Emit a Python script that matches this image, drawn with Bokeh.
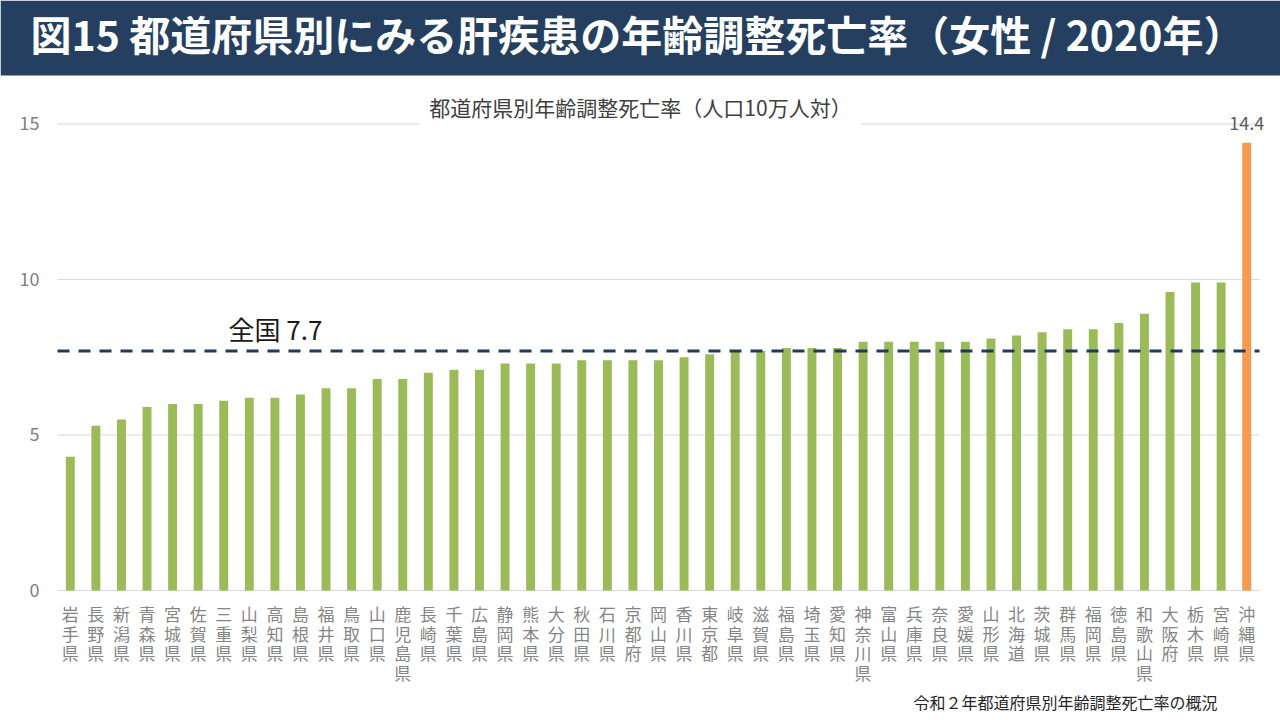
from bokeh.plotting import figure
from bokeh.models import Range1d, Label, BoxAnnotation, ColumnDataSource
from bokeh.core.properties import value
from bokeh.embed import file_html
from bokeh.resources import INLINE

# ---------------- data ----------------
prefectures = ["岩手県", "長野県", "新潟県", "青森県", "宮城県", "佐賀県", "三重県", "山梨県",
               "高知県", "島根県", "福井県", "鳥取県", "山口県", "鹿児島県", "長崎県", "千葉県",
               "広島県", "静岡県", "熊本県", "大分県", "秋田県", "石川県", "京都府", "岡山県",
               "香川県", "東京都", "岐阜県", "滋賀県", "福島県", "埼玉県", "愛知県", "神奈川県",
               "富山県", "兵庫県", "奈良県", "愛媛県", "山形県", "北海道", "茨城県", "群馬県",
               "福岡県", "徳島県", "和歌山県", "大阪府", "栃木県", "宮崎県", "沖縄県"]
rates = [4.3, 5.3, 5.5, 5.9, 6.0, 6.0, 6.1, 6.2, 6.2, 6.3, 6.5, 6.5, 6.8, 6.8, 7.0, 7.1,
         7.1, 7.3, 7.3, 7.3, 7.4, 7.4, 7.4, 7.4, 7.5, 7.6, 7.7, 7.7, 7.8, 7.8, 7.8, 8.0,
         8.0, 8.0, 8.0, 8.0, 8.1, 8.2, 8.3, 8.4, 8.4, 8.6, 8.9, 9.6, 9.9, 9.9, 14.4]
national_rate = 7.7
highlight = "沖縄県"
y_ticks = [0, 5, 10, 15]

title_text = "図15 都道府県別にみる肝疾患の年齢調整死亡率（女性 / 2020年）"
subtitle_text = "都道府県別年齢調整死亡率（人口10万人対）"
national_text = "全国 7.7"
source_text = "令和２年都道府県別年齢調整死亡率の概況"

# ---------------- layout (pixels) ----------------
W, H = 1280, 720
PLOT_L, PLOT_R = 57, 1259      # plot area left/right
Y0_PX, Y15_PX = 590, 123.5     # pixel rows of y=0 and y=15
n = len(prefectures)
cat_px = (PLOT_R - PLOT_L) / n
px_per_unit = (Y0_PX - Y15_PX) / 15.0

x_start = -0.5 - PLOT_L / cat_px
x_end = (n - 0.5) + (W - PLOT_R) / cat_px
y_start = -(H - Y0_PX) / px_per_unit
y_end = Y0_PX / px_per_unit

JP = "Noto Sans CJK JP"
GREEN = "#9BBB59"
ORANGE = "#F59A4E"
NAVY = "#243F60"
GRID = "#D9D9D9"

xs = list(range(n))
colors = [ORANGE if p_ == highlight else GREEN for p_ in prefectures]
src = ColumnDataSource(dict(x=xs, y=rates, color=colors))

p = figure(width=W, height=H, x_range=Range1d(x_start, x_end),
           y_range=Range1d(y_start, y_end), output_backend="svg", toolbar_location=None,
           min_border=0, min_border_left=0, min_border_right=0, min_border_top=0,
           min_border_bottom=0, outline_line_color=None, background_fill_color="white",
           border_fill_color="white")
p.title.visible = False
p.xaxis.visible = False
p.yaxis.visible = False
p.xgrid.visible = False
p.ygrid.visible = False

x_lo, x_hi = -0.5, n - 0.5

# title bar (drawn beneath everything)
p.add_layout(BoxAnnotation(left=0, right=W, bottom=H - 75, top=H,
                           left_units="screen", right_units="screen",
                           bottom_units="screen", top_units="screen",
                           fill_color=NAVY, fill_alpha=1, line_color=None, level="underlay"))

# gridlines (5, 10, 15) and baseline (0)
p.segment(x0=[x_lo] * len(y_ticks), x1=[x_hi] * len(y_ticks), y0=y_ticks, y1=y_ticks,
          line_color=GRID, line_width=1)

# y tick labels
p.text(x=[x_lo] * len(y_ticks), y=y_ticks, text=[str(t) for t in y_ticks],
       x_offset=-18, y_offset=-1, text_align="right", text_baseline="middle",
       text_font=value(JP), text_font_size="18px", text_color="#808080")

# x tick labels: one character per row
lx, ly, lt, loff = [], [], [], []
for i, name in enumerate(prefectures):
    for r, ch in enumerate(name):
        lx.append(i)
        ly.append(0)
        lt.append(ch)
        loff.append(23 + 19.5 * r)
p.text(x=lx, y=ly, text=lt, y_offset=loff, text_align="center", text_baseline="middle",
       text_font=value(JP), text_font_size="17px", text_color="#858585")

# bars
p.vbar(x="x", top="y", width=0.35, source=src, fill_color="color", line_color=None)

# national average line
p.segment(x0=[x_lo], x1=[x_hi], y0=[national_rate], y1=[national_rate],
          line_color="#1F3A5A", line_width=3, line_dash="12 9")

# value label for highlighted bar
i_max = rates.index(max(rates))
p.text(x=[xs[i_max]], y=[rates[i_max]], text=[f"{rates[i_max]:.1f}"],
       text_align="center", text_baseline="bottom", y_offset=-13,
       text_font=value(JP), text_font_size="18px", text_color="#595959")

# title
p.add_layout(Label(x=30, y=H - 32, x_units="screen", y_units="screen",
                   text=title_text, text_font=JP, text_font_size="41px",
                   text_font_style="bold", text_color="white", text_baseline="middle"))

# subtitle
p.add_layout(Label(x=640, y=H - 106, x_units="screen", y_units="screen",
                   text=subtitle_text, text_font=JP, text_font_size="21px",
                   text_color="#404040", text_align="center", text_baseline="middle",
                   background_fill_color="white", padding=10))

# national label
p.add_layout(Label(x=228, y=H - 328, x_units="screen", y_units="screen",
                   text=national_text, text_font=JP, text_font_size="26px",
                   text_color="#1A1A1A", text_baseline="middle"))

# source note
p.add_layout(Label(x=913, y=H - 701, x_units="screen", y_units="screen",
                   text=source_text, text_font=JP, text_font_size="16px",
                   text_color="#262626", text_baseline="middle"))

open("out.html", "w").write(file_html(p, INLINE))
